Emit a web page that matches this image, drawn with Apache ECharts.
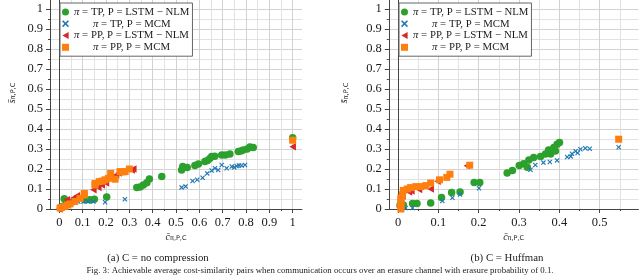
<!DOCTYPE html>
<html><head><meta charset="utf-8">
<script src="https://cdn.jsdelivr.net/npm/echarts@6/dist/echarts.min.js"></script>
<style>html,body{margin:0;padding:0;background:#fff}#c{width:640px;height:279px}</style>
</head><body><div id="c"></div>
<script>
// ---------- data ----------
const seriesNames = ['π = TP, P = LSTM − NLM', 'π = TP, P = MCM', 'π = PP, P = LSTM − NLM', 'π = PP, P = MCM'];
const captionA = '(a) C = no compression';
const captionB = '(b) C = Huffman';
const figCaption = 'Fig. 3: Achievable average cost-similarity pairs when communication occurs over an erasure channel with erasure probability of 0.1.';
// axis ranges / tick steps
const xRangeA = [-0.04, 1.04], xTickMaxA = 1;
const xRangeB = [-0.024, 0.596], xTickMaxB = 0.5, xMinorMaxB = 0.55;
const yRange = [0, 1.05];
const majorStep = 0.1, minorStep = 0.05;

// (a) no compression
const A_TP_LSTM = [[0.005,0.005],[0.012,0.012],[0.021,0.051],[0.03,0.03],[0.06,0.038],[0.11,0.046],[0.131,0.046],[0.15,0.049],[0.203,0.06],[0.332,0.108],[0.346,0.11],[0.36,0.12],[0.375,0.131],[0.386,0.15],[0.439,0.163],[0.524,0.195],[0.529,0.213],[0.548,0.207],[0.581,0.217],[0.596,0.225],[0.624,0.237],[0.635,0.243],[0.645,0.253],[0.653,0.262],[0.666,0.264],[0.696,0.27],[0.712,0.27],[0.731,0.275],[0.767,0.287],[0.778,0.29],[0.788,0.295],[0.805,0.3],[0.817,0.31],[0.831,0.307],[1.0,0.356]];
const A_TP_MCM = [[0.003,0.002],[0.01,0.005],[0.02,0.01],[0.04,0.02],[0.081,0.037],[0.103,0.037],[0.124,0.037],[0.146,0.037],[0.196,0.034],[0.281,0.049],[0.524,0.108],[0.541,0.113],[0.571,0.14],[0.591,0.146],[0.614,0.156],[0.634,0.178],[0.653,0.192],[0.667,0.204],[0.681,0.195],[0.696,0.22],[0.717,0.204],[0.739,0.212],[0.75,0.208],[0.76,0.215],[0.77,0.218],[0.781,0.217],[0.796,0.22]];
const A_PP_LSTM = [[0.0,0.0],[0.005,0.01],[0.015,0.02],[0.032,0.046],[0.045,0.035],[0.06,0.055],[0.075,0.066],[0.146,0.096],[0.167,0.108],[0.182,0.12],[0.2,0.13],[0.231,0.153],[0.243,0.17],[0.254,0.18],[0.28,0.19],[0.31,0.195],[0.317,0.2],[1.0,0.311]];
const A_PP_MCM = [[0.003,0.005],[0.01,0.008],[0.024,0.013],[0.035,0.02],[0.046,0.026],[0.067,0.038],[0.089,0.053],[0.107,0.07],[0.107,0.078],[0.153,0.12],[0.153,0.128],[0.171,0.137],[0.185,0.14],[0.196,0.146],[0.21,0.153],[0.22,0.178],[0.239,0.149],[0.26,0.187],[0.27,0.185],[0.282,0.187],[0.3,0.2],[1.0,0.344]];

// (b) Huffman
const B_TP_LSTM = [[0.004,0.02],[0.008,0.01],[0.012,0.02],[0.035,0.028],[0.046,0.028],[0.08,0.03],[0.107,0.058],[0.132,0.083],[0.153,0.085],[0.188,0.133],[0.202,0.133],[0.27,0.18],[0.283,0.192],[0.3,0.218],[0.311,0.226],[0.32,0.209],[0.324,0.245],[0.336,0.258],[0.353,0.262],[0.365,0.275],[0.373,0.295],[0.378,0.275],[0.386,0.307],[0.39,0.29],[0.394,0.324],[0.4,0.333]];
const B_TP_MCM = [[0.006,0.007],[0.018,0.005],[0.035,0.005],[0.109,0.04],[0.134,0.056],[0.153,0.072],[0.2,0.104],[0.328,0.196],[0.34,0.22],[0.36,0.232],[0.376,0.235],[0.394,0.243],[0.419,0.26],[0.428,0.263],[0.431,0.276],[0.44,0.289],[0.445,0.28],[0.452,0.299],[0.464,0.304],[0.475,0.301],[0.547,0.309]];
const B_PP_LSTM = [[0.002,0.01],[0.006,0.055],[0.01,0.065],[0.026,0.085],[0.032,0.09],[0.051,0.098],[0.08,0.1],[0.097,0.139],[0.17,0.216]];
const B_PP_MCM = [[0.006,0.0],[0.006,0.015],[0.006,0.03],[0.006,0.045],[0.006,0.055],[0.01,0.071],[0.012,0.093],[0.022,0.1],[0.03,0.107],[0.043,0.112],[0.055,0.112],[0.068,0.117],[0.08,0.13],[0.102,0.146],[0.12,0.158],[0.128,0.174],[0.177,0.219],[0.547,0.349]];

// ---------- styling ----------
const SERIF = '"Liberation Serif", "Times New Roman", serif';
const SANS = '"DejaVu Sans", sans-serif';
const TXT = '#1a1a1a';
const AXIS = '#444';
const MAJOR_GRID = '#d2d2d2';
const MINOR_GRID = '#e2e2e2';
const colors = ['#2ca02c', '#1f77b4', '#d62728', '#ff7f0e'];
const X_PATH = 'path://M0,1.6 L1.6,0 L5,3.4 L8.4,0 L10,1.6 L6.6,5 L10,8.4 L8.4,10 L5,6.6 L1.6,10 L0,8.4 L3.4,5 Z';
const TRI_LEFT = 'path://M0,5 L9,0 L9,10 Z';
const markers = [
  {symbol: 'circle', size: 7.5},
  {symbol: X_PATH, size: 5},
  {symbol: TRI_LEFT, size: [6.5, 7.5]},
  {symbol: 'rect', size: 7}
];

// layout (px)
const gridTop = -1, gridH = 210;
const A = {left: 50, width: 252, x0: 59.3, unit: 233.4};
const B = {left: 388.8, width: 249.6, x0: 398.0, unit: 403.3};

const chart = echarts.init(document.getElementById('c'), null, {renderer: 'canvas'});

const yName = '{s|s̄}{b|π,P,C}';
const xName = '{s|c̄}{b|π,P,C}';
const nameRich = {
  s: {fontFamily: SERIF, fontStyle: 'italic', fontSize: 10, color: TXT, verticalAlign: 'bottom', lineHeight: 12},
  b: {fontFamily: SANS, fontSize: 6.5, color: TXT, verticalAlign: 'bottom', lineHeight: 9}
};

function mainX(gi, range, isTop) {
  return {
    type: 'value', gridIndex: gi, min: range[0], max: range[1], position: isTop ? 'top' : 'bottom',
    axisLine: {show: true, onZero: false, lineStyle: {color: AXIS, width: 1}},
    axisTick: {show: false}, axisLabel: {show: false}, splitLine: {show: false},
    name: isTop ? '' : xName, nameLocation: 'middle', nameGap: 21,
    nameTextStyle: {rich: nameRich}
  };
}
function tickX(gi, max, step, major) {
  return {
    type: 'value', gridIndex: gi, min: 0, max: max, interval: step, position: 'bottom',
    axisLine: {show: false},
    axisTick: {show: true, inside: false, length: major ? 4 : 2, lineStyle: {color: AXIS, width: 1}},
    axisLabel: {show: major, margin: 7, fontFamily: SERIF, fontSize: 12.5, color: TXT,
      showMinLabel: true, showMaxLabel: true, formatter: v => String(+v.toFixed(2))},
    splitLine: {show: true, lineStyle: {color: major ? MAJOR_GRID : MINOR_GRID, width: 1}}
  };
}
function yAx(gi, kind, gap, pad) {
  if (kind === 'hidden') return {type: 'value', gridIndex: gi, show: false, min: 0, max: 1};
  if (kind === 'right') return {
    type: 'value', gridIndex: gi, min: yRange[0], max: yRange[1], position: 'right',
    axisLine: {show: true, lineStyle: {color: AXIS, width: 1}}, axisTick: {show: false},
    axisLabel: {show: false}, splitLine: {show: false}
  };
  const major = kind === 'major';
  return {
    type: 'value', gridIndex: gi, min: yRange[0], max: yRange[1], interval: major ? majorStep : minorStep,
    position: 'left',
    axisLine: {show: major, onZero: false, lineStyle: {color: AXIS, width: 1}},
    axisTick: {show: true, length: major ? 4 : 2, lineStyle: {color: AXIS, width: 1}},
    axisLabel: {show: major, margin: 7, fontFamily: SERIF, fontSize: 12.5, color: TXT,
      showMaxLabel: false, formatter: v => String(+v.toFixed(2))},
    splitLine: {show: true, lineStyle: {color: major ? MAJOR_GRID : MINOR_GRID, width: 1}},
    name: major ? yName : '', nameLocation: 'middle', nameRotate: 90, nameGap: gap,
    nameTextStyle: {rich: nameRich, padding: [0, 0, 0, pad]}
  };
}

const grids = [
  {left: A.left, top: gridTop, width: A.width, height: gridH},
  {left: A.x0, top: gridTop, width: A.unit * xTickMaxA, height: gridH},
  {left: B.left, top: gridTop, width: B.width, height: gridH},
  {left: B.x0, top: gridTop, width: B.unit * xTickMaxB, height: gridH},
  {left: B.x0, top: gridTop, width: B.unit * xMinorMaxB, height: gridH}
].map(g => Object.assign({containLabel: false, outerBoundsMode: 'none'}, g));

const xAxes = [
  mainX(0, xRangeA, false), mainX(0, xRangeA, true),
  tickX(1, xTickMaxA, minorStep, false), tickX(1, xTickMaxA, majorStep, true),
  mainX(2, xRangeB, false), mainX(2, xRangeB, true),
  tickX(4, xMinorMaxB, minorStep, false), tickX(3, xTickMaxB, majorStep, true)
];
const yAxes = [
  yAx(0, 'minor'), yAx(0, 'major', 33, 22), yAx(0, 'right'), yAx(1, 'hidden'),
  yAx(2, 'minor'), yAx(2, 'major', 39, 22), yAx(2, 'right'), yAx(3, 'hidden'), yAx(4, 'hidden')
];

function mk(i, data, xi, yi) {
  const m = markers[i];
  return {
    type: 'scatter', name: seriesNames[i], data: data, xAxisIndex: xi, yAxisIndex: yi,
    symbol: m.symbol, symbolSize: m.size,
    itemStyle: {color: colors[i], opacity: 1, borderWidth: 0},
    emphasis: {disabled: true}, z: 2 + i, clip: false
  };
}
const series = [
  mk(0, A_TP_LSTM, 0, 1), mk(1, A_TP_MCM, 0, 1), mk(2, A_PP_LSTM, 0, 1), mk(3, A_PP_MCM, 0, 1),
  mk(0, B_TP_LSTM, 4, 5), mk(1, B_TP_MCM, 4, 5), mk(2, B_PP_LSTM, 4, 5), mk(3, B_PP_MCM, 4, 5)
];

const legendRich = {
  p: {width: 19, fontSize: 10.8, fontFamily: SERIF},
  i: {fontFamily: SERIF, fontStyle: 'italic', fontSize: 10.8, color: TXT, lineHeight: 11.8},
  r: {fontFamily: SERIF, fontSize: 10.8, color: TXT, lineHeight: 11.8}
};
function legend(left) {
  return {
    left: left, top: 3, orient: 'vertical', data: seriesNames, selectedMode: false,
    itemWidth: 7, itemHeight: 7, itemGap: 0, padding: [3, 3, 3, 2],
    borderColor: '#666', borderWidth: 1, backgroundColor: '#fff',
    textStyle: {fontFamily: SERIF, fontSize: 10.8, lineHeight: 11.8, color: TXT, rich: legendRich},
    formatter: name => (name.endsWith('MCM') ? '{p|}' : '') + '{i|π}{r|' + name.slice(1) + '}'
  };
}

function caption(text, x, y, size) {
  return {type: 'text', x: x, y: y, silent: true,
    style: {text: text, fontFamily: SERIF, fontSize: size, fill: TXT, align: 'center', verticalAlign: 'middle',
      textAlign: 'center', textVerticalAlign: 'middle'}};
}

chart.setOption({
  animation: false,
  backgroundColor: '#fff',
  grid: grids,
  xAxis: xAxes,
  yAxis: yAxes,
  legend: [legend(60), legend(399)],
  series: series,
  graphic: [
    caption(captionA, 158, 258, 10.8),
    caption(captionB, 507, 258, 10.8),
    caption(figCaption, 320, 271, 8.8)
  ]
});
</script>
</body></html>
